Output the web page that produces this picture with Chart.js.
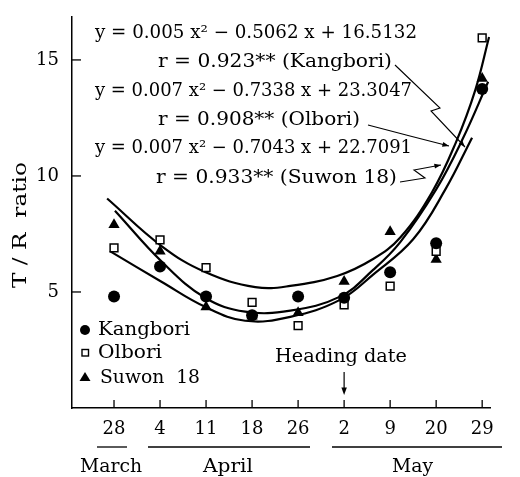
<!DOCTYPE html>
<html lang="en">
<head>
<meta charset="UTF-8">
<title>T/R ratio</title>
<script src="https://cdn.jsdelivr.net/npm/chart.js@4.4.4/dist/chart.umd.min.js"></script>
<style>
  html, body { margin: 0; padding: 0; background: #fff; }
  canvas { display: block; }
</style>
</head>
<body>
<canvas id="chart" width="520" height="477"></canvas>
<script>
// Sampling dates (equally spaced on the axis), grouped by month below.
const dateLabels = ['28', '4', '11', '18', '26', '2', '9', '20', '29'];
const yTicks = [5, 10, 15];

const kangbori = [4.8, 6.1, 4.8, 4.0, 4.8, 4.75, 5.85, 7.1, 13.75];
const olbori = [6.9, 7.25, 6.05, 4.55, 3.55, 4.45, 5.25, 6.75, 15.95];
const suwon18 = [7.9, 6.75, 4.35, 3.95, 4.1, 5.45, 7.6, 6.4, 14.2];

// Fitted curves (x = position on the date axis).
const suwonCurveX = [-0.15, 1.04, 1.98, 3.07, 3.83, 4.85, 5.63, 6.22, 6.91, 7.43, 7.85, 8.15];
const suwonCurveY = [9.03, 6.97, 5.86, 5.21, 5.26, 5.69, 6.42, 7.35, 9.3, 11.45, 13.7, 15.99];
const olboriCurveX = [0.02, 1.04, 1.98, 2.85, 3.83, 4.91, 5.63, 6.22, 7.0, 7.57, 8.13];
const olboriCurveY = [8.5, 6.3, 4.75, 4.15, 4.2, 4.8, 5.95, 7.15, 9.42, 11.57, 14.06];
const kangboriCurveX = [-0.09, 1.04, 1.98, 2.85, 3.83, 4.91, 5.63, 6.5, 7.2, 7.78];
const kangboriCurveY = [6.76, 5.43, 4.36, 3.76, 3.93, 4.66, 5.75, 7.27, 9.42, 11.65];

const months = [
    { label: 'March', from: 97, to: 127 },
    { label: 'April', from: 148, to: 310 },
    { label: 'May', from: 332, to: 502 },
];

const FONT_FAMILY = '"DejaVu Serif", "Liberation Serif", serif';
const INK = '#000';

function pts(xs, ys) {
    return xs.map((x, i) => ({ x, y: ys[i] }));
}

// Draw text stretched/squeezed to a given width, vertically centred on cy.
function fitText(ctx, text, left, cy, width) {
    const w = ctx.measureText(text).width;
    ctx.save();
    ctx.translate(left, cy);
    ctx.scale(width / w, 1);
    ctx.textAlign = 'left';
    ctx.textBaseline = 'middle';
    ctx.fillText(text, 0, 0);
    ctx.restore();
}

function arrowHead(ctx, fromX, fromY, toX, toY, size) {
    const a = Math.atan2(toY - fromY, toX - fromX);
    ctx.beginPath();
    ctx.moveTo(toX, toY);
    ctx.lineTo(toX - size * Math.cos(a - 0.35), toY - size * Math.sin(a - 0.35));
    ctx.lineTo(toX - size * Math.cos(a + 0.35), toY - size * Math.sin(a + 0.35));
    ctx.closePath();
    ctx.fill();
}

function leader(ctx, path) {
    ctx.beginPath();
    path.forEach(([x, y], i) => (i ? ctx.lineTo(x, y) : ctx.moveTo(x, y)));
    ctx.stroke();
    const [px, py] = path[path.length - 2];
    const [qx, qy] = path[path.length - 1];
    arrowHead(ctx, px, py, qx, qy, 7);
}

const whiteBackground = {
    id: 'whiteBackground',
    beforeDraw(chart) {
        const { ctx, width, height } = chart;
        ctx.save();
        ctx.fillStyle = '#fff';
        ctx.fillRect(0, 0, width, height);
        ctx.restore();
    },
};

const annotations = {
    id: 'annotations',
    afterDraw(chart) {
        const { ctx, scales: { x, y } } = chart;
        ctx.save();
        ctx.strokeStyle = INK;
        ctx.fillStyle = INK;
        ctx.lineWidth = 1.3;

        // inward tick marks
        const axisY = y.getPixelForValue(y.min);
        const axisX = x.getPixelForValue(x.min);
        dateLabels.forEach((_, i) => {
            const px = x.getPixelForValue(i);
            ctx.beginPath();
            ctx.moveTo(px, axisY);
            ctx.lineTo(px, axisY - 8);
            ctx.stroke();
        });
        yTicks.forEach((v) => {
            const py = y.getPixelForValue(v);
            ctx.beginPath();
            ctx.moveTo(axisX, py);
            ctx.lineTo(axisX + 9, py);
            ctx.stroke();
        });

        // regression equations
        ctx.font = `18px ${FONT_FAMILY}`;
        fitText(ctx, 'y = 0.005 x\u00b2 \u2212 0.5062 x + 16.5132', 95, 33, 322);
        fitText(ctx, 'r = 0.923** (Kangbori)', 158, 62, 234);
        fitText(ctx, 'y = 0.007 x\u00b2 \u2212 0.7338 x + 23.3047', 95, 91, 317);
        fitText(ctx, 'r = 0.908** (Olbori)', 158, 120, 202);
        fitText(ctx, 'y = 0.007 x\u00b2 \u2212 0.7043 x + 22.7091', 95, 148, 317);
        fitText(ctx, 'r = 0.933** (Suwon 18)', 156, 178, 241);

        // leaders from the labels to their curves
        ctx.lineWidth = 1.1;
        leader(ctx, [[395, 65], [440, 108], [431, 111], [465, 147]]);
        leader(ctx, [[368, 125], [410, 136], [449, 146]]);
        leader(ctx, [[400, 182], [425, 178], [414, 170], [441, 165]]);

        // legend
        ctx.beginPath();
        ctx.arc(85, 330, 5, 0, Math.PI * 2);
        ctx.fill();
        ctx.lineWidth = 1.4;
        ctx.strokeRect(82, 349.5, 6.5, 6.5);
        ctx.beginPath();
        ctx.moveTo(85, 372);
        ctx.lineTo(90.5, 381);
        ctx.lineTo(79.5, 381);
        ctx.closePath();
        ctx.fill();
        fitText(ctx, 'Kangbori', 98, 330, 92);
        fitText(ctx, 'Olbori', 98, 353, 64);
        fitText(ctx, 'Suwon  18', 100, 378, 100);

        // heading date marker
        const hx = x.getPixelForValue(5);
        fitText(ctx, 'Heading date', 275, 357, 132);
        ctx.lineWidth = 1.2;
        ctx.beginPath();
        ctx.moveTo(hx, 372);
        ctx.lineTo(hx, 390);
        ctx.stroke();
        arrowHead(ctx, hx, 372, hx, 395, 8);

        // month grouping under the date ticks
        ctx.lineWidth = 1.3;
        months.forEach((m) => {
            ctx.beginPath();
            ctx.moveTo(m.from, 447);
            ctx.lineTo(m.to, 447);
            ctx.stroke();
        });
        fitText(ctx, 'March', 80, 467, 62);
        fitText(ctx, 'April', 203, 467, 50);
        fitText(ctx, 'May', 392, 467, 41);

        // y axis title
        ctx.save();
        ctx.translate(21, 225);
        ctx.rotate(-Math.PI / 2);
        fitText(ctx, 'T / R  ratio', -63, 0, 126);
        ctx.restore();

        ctx.restore();
    },
};

const tickFont = { family: FONT_FAMILY, size: 18 };

function curveDataset(label, xs, ys) {
    return {
        label,
        data: pts(xs, ys),
        showLine: true,
        pointRadius: 0,
        borderColor: INK,
        borderWidth: 2.2,
        tension: 0.4,
    };
}

new Chart(document.getElementById('chart'), {
    type: 'scatter',
    data: {
        datasets: [
            {
                label: 'Kangbori',
                data: kangbori.map((v, i) => ({ x: i, y: v })),
                pointStyle: 'circle',
                pointRadius: 6,
                backgroundColor: INK,
                borderColor: INK,
                borderWidth: 0,
            },
            {
                label: 'Olbori',
                data: olbori.map((v, i) => ({ x: i, y: v })),
                pointStyle: 'rect',
                pointRadius: 5.5,
                backgroundColor: '#fff',
                borderColor: INK,
                borderWidth: 1.5,
            },
            {
                label: 'Suwon 18',
                data: suwon18.map((v, i) => ({ x: i, y: v })),
                pointStyle: 'triangle',
                pointRadius: 6.5,
                backgroundColor: INK,
                borderColor: INK,
                borderWidth: 0,
            },
            curveDataset('Suwon 18 fit', suwonCurveX, suwonCurveY),
            curveDataset('Olbori fit', olboriCurveX, olboriCurveY),
            curveDataset('Kangbori fit', kangboriCurveX, kangboriCurveY),
        ],
    },
    options: {
        responsive: false,
        animation: false,
        devicePixelRatio: 1,
        layout: { padding: { left: 0, top: 17, right: 30, bottom: 0 } },
        plugins: {
            legend: { display: false },
            tooltip: { enabled: false },
        },
        scales: {
            x: {
                type: 'linear',
                min: -0.913,
                max: 8.17,
                afterBuildTicks: (s) => { s.ticks = dateLabels.map((_, i) => ({ value: i })); },
                afterFit: (s) => { s.height = 69; },
                ticks: {
                    callback: (v) => dateLabels[v],
                    font: tickFont,
                    color: INK,
                    padding: 3,
                    maxRotation: 0,
                    autoSkip: false,
                },
                grid: { display: false },
                border: { display: true, color: INK, width: 1.5 },
            },
            y: {
                min: 0,
                max: 16.85,
                afterBuildTicks: (s) => { s.ticks = yTicks.map((v) => ({ value: v })); },
                afterFit: (s) => { s.width = 72; },
                ticks: {
                    font: tickFont,
                    color: INK,
                    padding: 5,
                },
                grid: { display: false },
                border: { display: true, color: INK, width: 1.5 },
            },
        },
    },
    plugins: [whiteBackground, annotations],
});
</script>
</body>
</html>
